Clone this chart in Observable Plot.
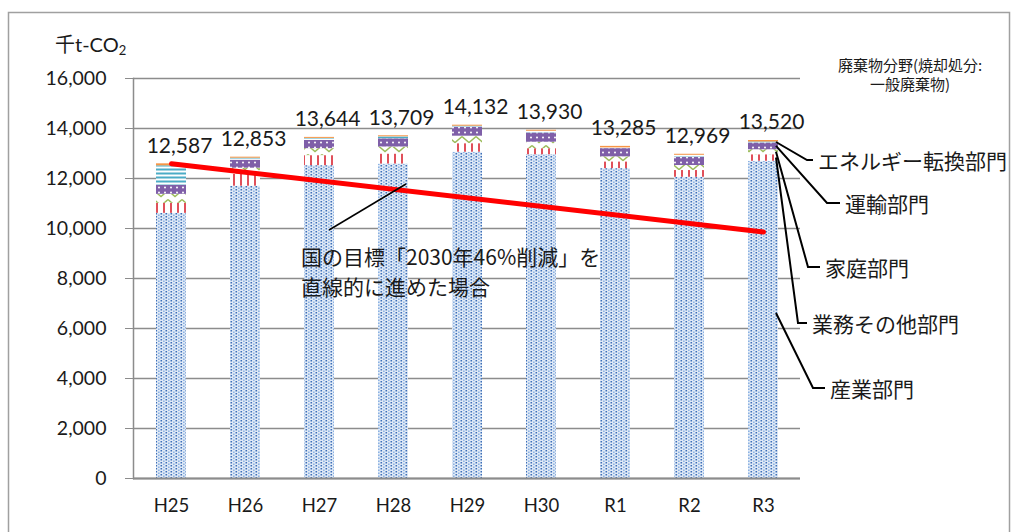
<!DOCTYPE html>
<html lang="ja"><head><meta charset="utf-8">
<script src="https://cdn.jsdelivr.net/npm/d3@7"></script>
<script src="https://cdn.jsdelivr.net/npm/@observablehq/plot@0.6"></script>
<style>
html,body{margin:0;padding:0;background:#fff;}
#chart{width:1018px;height:532px;overflow:hidden;}
</style></head><body><div id="chart"></div>
<script>
// ---- data ----
const years = ["H25","H26","H27","H28","H29","H30","R1","R2","R3"];
const sectors = ["産業部門","業務その他部門","家庭部門","運輸部門","エネルギー転換部門","廃棄物分野"];
const industry   = [10607,11693,12514,12579,13052,12950,12395,12049,12690];
const commercial = [400,480,400,400,340,240,270,270,260];
const household  = [360,240,280,280,300,260,200,200,200];
const transport  = [360,320,330,330,360,370,330,330,270];
const energy     = [780,80,80,80,40,70,30,80,40];
const waste      = [80,40,40,40,40,40,60,40,60];
const totals     = [12587,12853,13644,13709,14132,13930,13285,12969,13520];
const targetYears  = ["H25","R3"];
const targetValues = [12587,9862];
const yTicks = [0,2000,4000,6000,8000,10000,12000,14000,16000];

const series = [industry, commercial, household, transport, energy, waste];
const rows = years.flatMap((yr,i) => sectors.map((s,j) => ({year: yr, sector: s, value: series[j][i]})));
const totalRows = years.map((yr,i) => ({year: yr, total: totals[i]}));
const targetRows = targetYears.map((yr,i) => ({year: yr, value: targetValues[i]}));

const sectorFills = ["url(#p-ind)","url(#p-com)","url(#p-hou)","url(#p-tra)","url(#p-ene)","#f79646"];
const NUM = "Lato, 'Noto Sans CJK JP', sans-serif";
const JP = "'Noto Sans CJK JP', sans-serif";
const INK = "#1a1a1a", GRID = "#8c8c8c";

const plot = Plot.plot({
  width: 1018, height: 532,
  marginLeft: 133, marginRight: 218, marginTop: 78, marginBottom: 54,
  style: {fontFamily: NUM, fontSize: "18px", color: INK, background: "white"},
  x: {domain: years, paddingInner: 0.6, paddingOuter: 0.3, label: null},
  y: {domain: [0,16000], label: null},
  color: {domain: sectors, range: sectorFills},
  marks: [
    Plot.gridY(yTicks, {stroke: GRID, strokeOpacity: 1, strokeWidth: 1.5}),
    Plot.barY(rows, {x: "year", y: "value", fill: "sector"}),
    Plot.ruleY([0], {stroke: GRID, strokeWidth: 2}),
    Plot.frame({anchor: "left", stroke: GRID, strokeWidth: 1.5}),
    Plot.axisY(yTicks, {tickFormat: d3.format(","), tickSize: 8, tickPadding: 19, fontSize: 19.5, stroke: GRID, fill: INK, label: null}),
    Plot.axisX({tickSize: 0, tickPadding: 20, fontSize: 18.5, fill: INK, label: null}),
    Plot.line(targetRows, {x: "year", y: "value", stroke: "#ff0000", strokeWidth: 5}),
    Plot.text(totalRows, {x: "year", y: "total", text: d => d3.format(",")(d.total), dy: -18, dx: 8, fontSize: 21, fill: INK})
  ]
});
document.getElementById("chart").appendChild(plot);

// ---- decorations using the plot's scales ----
const svg = d3.select(plot);
const sx = plot.scale("x"), sy = plot.scale("y");
const bw = sx.bandwidth;
const X = k => sx.apply(k);
const Y = v => sy.apply(v);

svg.insert("rect", ":first-child").attr("x", 8.5).attr("y", 12.5).attr("width", 1001).attr("height", 560)
  .attr("fill", "none").attr("stroke", "#a0a0a0").attr("stroke-width", 1.5);
const defs = svg.insert("defs", ":first-child");
function pat(id, w, h, bg, draw) {
  const p = defs.append("pattern").attr("id", id).attr("patternUnits", "userSpaceOnUse").attr("width", w).attr("height", h);
  p.append("rect").attr("width", w).attr("height", h).attr("fill", bg);
  draw(p);
}
pat("p-ind", 5, 3, "#e2ebf7", p => {
  p.append("rect").attr("x", 0.5).attr("y", 0).attr("width", 1.6).attr("height", 1.5).attr("fill", "#3d6fb8");
  p.append("rect").attr("x", 3).attr("y", 1.5).attr("width", 1.6).attr("height", 1.5).attr("fill", "#8bb1e2");
});
pat("p-com", 7, 4, "#fff", p => {
  p.append("rect").attr("x", 2).attr("width", 2).attr("height", 4).attr("fill", "#e0505a");
});
pat("p-hou", 14, 9, "#fff", p => {
  p.append("path").attr("d", "M0,1.5 L7,7.5 L14,1.5").attr("fill", "none").attr("stroke", "#9bbb59").attr("stroke-width", 1.4);
});
pat("p-tra", 6, 5, "#7f5fa8", p => {
  p.append("circle").attr("cx", 3).attr("cy", 2.5).attr("r", 1).attr("fill", "#fff");
});
pat("p-ene", 4, 4, "#fff", p => {
  p.append("rect").attr("y", 0.5).attr("width", 4).attr("height", 2).attr("fill", "#4bacc6");
});

const layer = svg.append("g").attr("text-anchor", "start");

// unit label
const unit = layer.append("text").attr("x", 55).attr("y", 44).attr("text-anchor", "start").attr("dominant-baseline", "central")
  .attr("font-family", NUM).attr("font-size", 20).attr("fill", INK).text("千t-CO");
unit.append("tspan").attr("font-size", 13).attr("dy", 6).text("2");

// waste label (top right)
const xRight = X(years[years.length-1]) + bw;
const plotRight = 1018 - 218;
[["廃棄物分野(焼却処分:", 16540], ["一般廃棄物)", 15780]].forEach(([t, v]) => {
  layer.append("text").attr("x", plotRight + 110).attr("y", Y(v)).attr("text-anchor", "middle")
    .attr("dominant-baseline", "central").attr("font-family", JP).attr("font-size", 15).attr("fill", INK).text(t);
});

// target annotation
layer.append("line").attr("x1", X("H27") + 25).attr("y1", Y(9920)).attr("x2", X("H28") + 28).attr("y2", Y(11760))
  .attr("stroke", "#000").attr("stroke-width", 1.5);
[["国の目標「2030年46%削減」を", 8880], ["直線的に進めた場合", 7680]].forEach(([t, v]) => {
  layer.append("text").attr("x", X("H27") - 3).attr("y", Y(v)).attr("text-anchor", "start").attr("dominant-baseline", "central")
    .attr("font-family", JP).attr("font-size", 21).attr("fill", INK).text(t);
});

// sector leaders for R3
const last = years.length - 1;
let cum = 0; const mids = series.map(s => { const m = cum + s[last]/2; cum += s[last]; return m; });
const leaders = [
  {label: sectors[4], from: mids[4], bend: 29, ly: 12720, gap: 11},
  {label: sectors[3], from: mids[3], bend: 49, ly: 11000, gap: 18},
  {label: sectors[2], from: mids[2], bend: 30, ly: 8440, gap: 17},
  {label: sectors[1], from: mids[1], bend: 20, ly: 6200, gap: 14},
  {label: sectors[0], from: 6600, bend: 35, ly: 3600, gap: 17}
];
leaders.forEach(d => {
  const bx = xRight + d.bend, by = Y(d.ly);
  layer.append("path").attr("d", `M${xRight - 2},${Y(d.from)} L${bx},${by} h${d.gap - 5}`)
    .attr("fill", "none").attr("stroke", "#000").attr("stroke-width", 2);
  layer.append("text").attr("x", bx + d.gap).attr("y", by).attr("text-anchor", "start").attr("dominant-baseline", "central")
    .attr("font-family", JP).attr("font-size", 21).attr("fill", INK).text(d.label);
});
</script></body></html>
